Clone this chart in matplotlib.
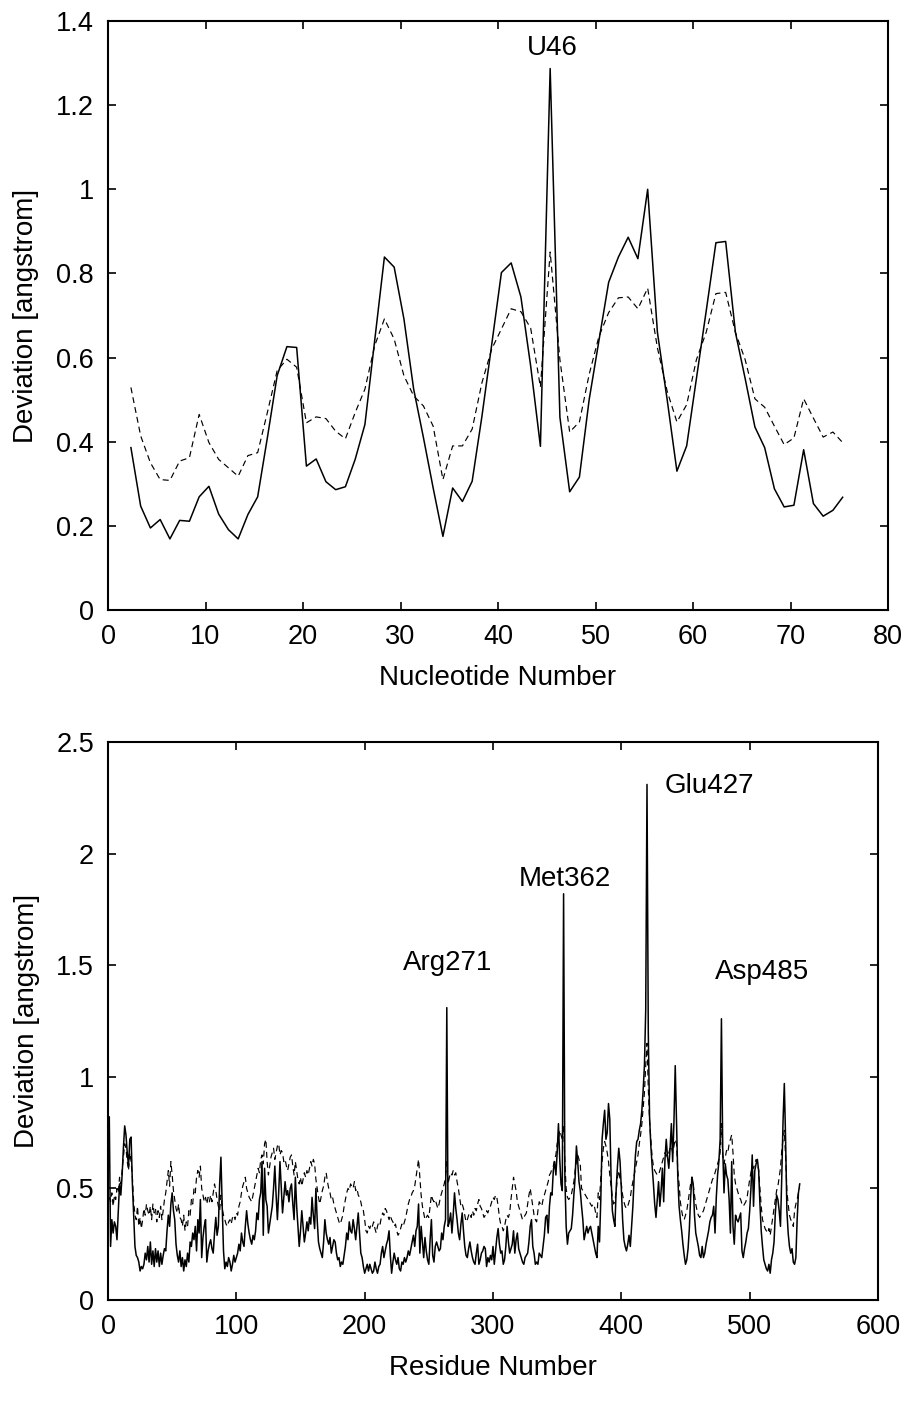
import numpy as np
import matplotlib
matplotlib.use("Agg")
import matplotlib.pyplot as plt

# ---------------- tRNA nucleotides ----------------
nucleotide_first, nucleotide_last = 2, 75
trna_solid = [
    0.386, 0.247, 0.195, 0.215, 0.169, 0.213, 0.211, 0.269, 0.294, 0.228,
    0.191, 0.169, 0.227, 0.269, 0.410, 0.557, 0.626, 0.624, 0.342, 0.359,
    0.305, 0.286, 0.293, 0.358, 0.441, 0.640, 0.839, 0.815, 0.692, 0.525,
    0.410, 0.290, 0.175, 0.290, 0.258, 0.306, 0.460, 0.630, 0.802, 0.825,
    0.744, 0.580, 0.389, 1.287, 0.458, 0.281, 0.316, 0.500, 0.640, 0.779,
    0.839, 0.886, 0.835, 1.000, 0.660, 0.500, 0.330, 0.390, 0.550, 0.710,
    0.873, 0.876, 0.660, 0.550, 0.435, 0.386, 0.288, 0.245, 0.249, 0.381,
    0.253, 0.223, 0.237, 0.268,
]
trna_dashed = [
    0.529, 0.414, 0.350, 0.310, 0.308, 0.354, 0.362, 0.465, 0.398, 0.358,
    0.338, 0.318, 0.367, 0.374, 0.470, 0.569, 0.596, 0.577, 0.445, 0.459,
    0.455, 0.425, 0.407, 0.469, 0.525, 0.628, 0.692, 0.644, 0.557, 0.509,
    0.485, 0.437, 0.310, 0.390, 0.390, 0.430, 0.540, 0.620, 0.668, 0.716,
    0.709, 0.670, 0.530, 0.851, 0.595, 0.423, 0.447, 0.560, 0.650, 0.707,
    0.742, 0.744, 0.716, 0.765, 0.623, 0.520, 0.447, 0.488, 0.595, 0.660,
    0.752, 0.755, 0.660, 0.595, 0.502, 0.482, 0.437, 0.393, 0.409, 0.502,
    0.456, 0.411, 0.423, 0.398,
]
trna_label = "U46"
trna_label_pos = (45.6, 1.335)

# ---------------- protein residues ----------------
residue_first, residue_last = 1, 539
protein_solid = [
    # 1-70
    0.82, 0.24, 0.36, 0.30, 0.35, 0.33, 0.27, 0.40, 0.52, 0.47,
    0.56, 0.68, 0.78, 0.74, 0.66, 0.60, 0.72, 0.73, 0.52, 0.38,
    0.24, 0.20, 0.19, 0.17, 0.13, 0.15, 0.14, 0.16, 0.21, 0.18,
    0.24, 0.17, 0.26, 0.16, 0.22, 0.15, 0.23, 0.17, 0.22, 0.15,
    0.21, 0.16, 0.20, 0.23, 0.22, 0.31, 0.38, 0.33, 0.43, 0.48,
    0.40, 0.36, 0.25, 0.20, 0.17, 0.22, 0.15, 0.19, 0.13, 0.18,
    0.15, 0.21, 0.17, 0.26, 0.24, 0.30, 0.27, 0.33, 0.22, 0.36,
    # 71-145
    0.30, 0.45, 0.19, 0.28, 0.33, 0.36, 0.17, 0.22, 0.25, 0.27,
    0.23, 0.21, 0.30, 0.37, 0.29, 0.33, 0.52, 0.64, 0.42, 0.22,
    0.14, 0.17, 0.15, 0.19, 0.17, 0.13, 0.16, 0.20, 0.17, 0.19,
    0.21, 0.25, 0.22, 0.30, 0.26, 0.24, 0.33, 0.40, 0.34, 0.30,
    0.27, 0.25, 0.29, 0.27, 0.31, 0.39, 0.36, 0.45, 0.48, 0.62,
    0.29, 0.59, 0.45, 0.42, 0.30, 0.34, 0.38, 0.42, 0.50, 0.60,
    0.47, 0.36, 0.48, 0.62, 0.50, 0.39, 0.46, 0.53, 0.47, 0.49,
    0.44, 0.50, 0.52, 0.43, 0.36,
    # 146-220
    0.55, 0.42, 0.33, 0.24, 0.31, 0.40, 0.33, 0.26, 0.30, 0.35,
    0.31, 0.37, 0.34, 0.46, 0.38, 0.32, 0.50, 0.36, 0.26, 0.23,
    0.21, 0.19, 0.26, 0.36, 0.30, 0.27, 0.25, 0.28, 0.21, 0.24,
    0.27, 0.26, 0.21, 0.18, 0.19, 0.15, 0.17, 0.16, 0.20, 0.24,
    0.30, 0.27, 0.35, 0.31, 0.30, 0.36, 0.32, 0.27, 0.33, 0.39,
    0.30, 0.21, 0.19, 0.15, 0.12, 0.14, 0.16, 0.13, 0.16, 0.14,
    0.12, 0.13, 0.17, 0.14, 0.12, 0.15, 0.16, 0.21, 0.24, 0.19,
    0.22, 0.25, 0.27, 0.31, 0.20,
    # 221-294
    0.12, 0.17, 0.21, 0.18, 0.16, 0.19, 0.14, 0.13, 0.17, 0.16,
    0.19, 0.17, 0.19, 0.22, 0.20, 0.23, 0.26, 0.29, 0.24, 0.31,
    0.33, 0.43, 0.21, 0.33, 0.26, 0.19, 0.28, 0.22, 0.18, 0.16,
    0.27, 0.36, 0.20, 0.17, 0.24, 0.26, 0.24, 0.22, 0.23, 0.30,
    0.27, 0.33, 0.36, 1.31, 0.33, 0.35, 0.39, 0.30, 0.38, 0.48,
    0.41, 0.36, 0.30, 0.27, 0.34, 0.39, 0.31, 0.24, 0.20, 0.19,
    0.23, 0.26, 0.22, 0.19, 0.17, 0.16, 0.21, 0.25, 0.16, 0.18,
    0.21, 0.22, 0.24, 0.23,
    # 295-368
    0.15, 0.19, 0.17, 0.20, 0.18, 0.24, 0.16, 0.22, 0.28, 0.32,
    0.25, 0.21, 0.22, 0.16, 0.18, 0.24, 0.33, 0.26, 0.21, 0.23,
    0.25, 0.31, 0.21, 0.27, 0.30, 0.23, 0.21, 0.19, 0.17, 0.16,
    0.19, 0.20, 0.21, 0.26, 0.33, 0.36, 0.24, 0.21, 0.16, 0.17,
    0.16, 0.21, 0.20, 0.19, 0.24, 0.29, 0.37, 0.38, 0.30, 0.42,
    0.48, 0.47, 0.58, 0.62, 0.56, 0.66, 0.79, 0.63, 0.52, 0.49,
    1.82, 0.55, 0.33, 0.25, 0.30, 0.31, 0.32, 0.38, 0.47, 0.55,
    0.69, 0.62, 0.53, 0.49,
    # 369-442
    0.42, 0.36, 0.27, 0.30, 0.33, 0.30, 0.32, 0.33, 0.30, 0.27,
    0.24, 0.21, 0.19, 0.33, 0.26, 0.45, 0.72, 0.79, 0.85, 0.72,
    0.75, 0.88, 0.81, 0.55, 0.40, 0.36, 0.33, 0.50, 0.60, 0.68,
    0.62, 0.50, 0.36, 0.27, 0.24, 0.22, 0.25, 0.29, 0.24, 0.33,
    0.42, 0.55, 0.65, 0.71, 0.72, 0.76, 0.79, 0.85, 0.94, 1.05,
    1.30, 2.31, 1.20, 0.82, 0.69, 0.60, 0.52, 0.43, 0.37, 0.45,
    0.53, 0.42, 0.49, 0.59, 0.44, 0.63, 0.72, 0.64, 0.59, 0.68,
    0.79, 0.62, 0.80, 1.05,
    # 443-516
    0.79, 0.55, 0.42, 0.36, 0.31, 0.25, 0.20, 0.16, 0.18, 0.23,
    0.32, 0.46, 0.55, 0.52, 0.38, 0.30, 0.27, 0.24, 0.20, 0.19,
    0.24, 0.19, 0.21, 0.25, 0.28, 0.31, 0.35, 0.37, 0.38, 0.42,
    0.30, 0.46, 0.56, 0.62, 0.72, 1.26, 0.68, 0.48, 0.61, 0.56,
    0.54, 0.45, 0.30, 0.62, 0.33, 0.25, 0.38, 0.36, 0.35, 0.37,
    0.39, 0.22, 0.19, 0.23, 0.26, 0.30, 0.32, 0.40, 0.50, 0.65,
    0.42, 0.58, 0.61, 0.63, 0.58, 0.43, 0.31, 0.24, 0.18, 0.16,
    0.14, 0.13, 0.16, 0.12,
    # 517-539
    0.18, 0.21, 0.26, 0.39, 0.47, 0.45, 0.40, 0.33, 0.55, 0.80,
    0.97, 0.72, 0.40, 0.30, 0.24, 0.21, 0.23, 0.17, 0.16, 0.19,
    0.36, 0.48, 0.52,
]
protein_dashed = [
    # 1-70
    0.46, 0.44, 0.48, 0.42, 0.47, 0.45, 0.50, 0.48, 0.55, 0.52,
    0.58, 0.64, 0.70, 0.68, 0.62, 0.58, 0.66, 0.62, 0.55, 0.44,
    0.38, 0.36, 0.42, 0.33, 0.37, 0.32, 0.36, 0.41, 0.38, 0.43,
    0.40, 0.38, 0.42, 0.36, 0.43, 0.39, 0.41, 0.35, 0.40, 0.37,
    0.42, 0.36, 0.40, 0.45, 0.48, 0.53, 0.58, 0.51, 0.62, 0.56,
    0.49, 0.45, 0.41, 0.39, 0.43, 0.37, 0.36, 0.33, 0.38, 0.31,
    0.35, 0.33, 0.40, 0.38, 0.45, 0.43, 0.50, 0.48, 0.55, 0.58,
    # 71-145
    0.55, 0.60, 0.50, 0.47, 0.44, 0.46, 0.43, 0.46, 0.44, 0.47,
    0.44, 0.48, 0.52, 0.49, 0.45, 0.42, 0.40, 0.47, 0.41, 0.38,
    0.36, 0.34, 0.33, 0.35, 0.36, 0.34, 0.37, 0.38, 0.36, 0.39,
    0.38, 0.42, 0.44, 0.48, 0.51, 0.53, 0.55, 0.50, 0.48, 0.46,
    0.45, 0.44, 0.47, 0.50, 0.53, 0.56, 0.59, 0.57, 0.63, 0.65,
    0.61, 0.70, 0.72, 0.62, 0.56, 0.60, 0.64, 0.66, 0.68, 0.63,
    0.66, 0.69, 0.70, 0.65, 0.67, 0.66, 0.62, 0.63, 0.60, 0.58,
    0.61, 0.64, 0.65, 0.60, 0.56,
    # 146-220
    0.62, 0.58, 0.54, 0.52, 0.55, 0.51, 0.54, 0.57, 0.55, 0.58,
    0.56, 0.59, 0.62, 0.60, 0.63, 0.61, 0.54, 0.50, 0.46, 0.43,
    0.46, 0.49, 0.51, 0.55, 0.57, 0.53, 0.50, 0.48, 0.45, 0.46,
    0.43, 0.41, 0.39, 0.37, 0.35, 0.34, 0.36, 0.38, 0.42, 0.45,
    0.48, 0.50, 0.49, 0.52, 0.51, 0.50, 0.53, 0.49, 0.50, 0.47,
    0.46, 0.44, 0.41, 0.40, 0.36, 0.31, 0.30, 0.33, 0.32, 0.34,
    0.33, 0.35, 0.32, 0.30, 0.33, 0.35, 0.34, 0.37, 0.39, 0.38,
    0.41, 0.40, 0.38, 0.36, 0.38,
    # 221-294
    0.36, 0.35, 0.33, 0.34, 0.31, 0.29, 0.30, 0.32, 0.34, 0.33,
    0.35, 0.37, 0.40, 0.43, 0.45, 0.46, 0.48, 0.49, 0.51, 0.55,
    0.59, 0.63, 0.55, 0.47, 0.42, 0.39, 0.36, 0.37, 0.38, 0.37,
    0.42, 0.47, 0.45, 0.44, 0.45, 0.43, 0.41, 0.43, 0.46, 0.48,
    0.50, 0.52, 0.55, 0.62, 0.52, 0.55, 0.57, 0.56, 0.58, 0.56,
    0.57, 0.53, 0.50, 0.46, 0.42, 0.43, 0.41, 0.38, 0.35, 0.36,
    0.38, 0.39, 0.37, 0.40, 0.38, 0.41, 0.40, 0.43, 0.45, 0.42,
    0.41, 0.39, 0.37, 0.38,
    # 295-368
    0.40, 0.39, 0.41, 0.42, 0.44, 0.46, 0.45, 0.47, 0.46, 0.42,
    0.37, 0.34, 0.33, 0.31, 0.33, 0.36, 0.38, 0.37, 0.39, 0.45,
    0.50, 0.55, 0.52, 0.49, 0.44, 0.42, 0.40, 0.38, 0.36, 0.37,
    0.38, 0.39, 0.43, 0.47, 0.50, 0.46, 0.42, 0.38, 0.36, 0.35,
    0.40, 0.44, 0.43, 0.42, 0.45, 0.47, 0.49, 0.51, 0.53, 0.56,
    0.57, 0.59, 0.60, 0.63, 0.65, 0.70, 0.72, 0.76, 0.74, 0.72,
    0.78, 0.62, 0.50, 0.46, 0.45, 0.46, 0.47, 0.50, 0.53, 0.58,
    0.62, 0.65, 0.63, 0.61,
    # 369-442
    0.50, 0.49, 0.48, 0.47, 0.46, 0.45, 0.44, 0.43, 0.42, 0.43,
    0.42, 0.39, 0.37, 0.48, 0.45, 0.55, 0.62, 0.68, 0.71, 0.69,
    0.66, 0.62, 0.56, 0.51, 0.46, 0.43, 0.44, 0.49, 0.55, 0.58,
    0.54, 0.52, 0.47, 0.44, 0.42, 0.41, 0.42, 0.44, 0.46, 0.50,
    0.53, 0.56, 0.59, 0.62, 0.65, 0.70, 0.74, 0.79, 0.86, 0.93,
    1.05, 1.15, 0.95, 0.80, 0.72, 0.64, 0.60, 0.58, 0.57, 0.56,
    0.56, 0.58, 0.60, 0.62, 0.64, 0.66, 0.65, 0.64, 0.66, 0.68,
    0.69, 0.66, 0.69, 0.72,
    # 443-516
    0.70, 0.58, 0.52, 0.44, 0.40, 0.37, 0.36, 0.38, 0.40, 0.44,
    0.48, 0.52, 0.55, 0.52, 0.47, 0.43, 0.40, 0.38, 0.37, 0.38,
    0.39, 0.40, 0.42, 0.44, 0.46, 0.48, 0.50, 0.52, 0.54, 0.55,
    0.57, 0.59, 0.61, 0.63, 0.66, 0.79, 0.65, 0.61, 0.64, 0.67,
    0.66, 0.70, 0.72, 0.74, 0.66, 0.56, 0.52, 0.50, 0.48, 0.46,
    0.45, 0.43, 0.42, 0.43, 0.44, 0.46, 0.50, 0.54, 0.57, 0.60,
    0.59, 0.61, 0.63, 0.62, 0.58, 0.50, 0.42, 0.36, 0.34, 0.32,
    0.31, 0.30, 0.32, 0.29,
    # 517-539
    0.33, 0.37, 0.41, 0.45, 0.49, 0.51, 0.55, 0.59, 0.67, 0.72,
    0.76, 0.64, 0.49, 0.43, 0.38, 0.36, 0.35, 0.33, 0.40, 0.43,
    0.45, 0.48, 0.50,
]
protein_labels = ["Arg271", "Met362", "Glu427", "Asp485"]
protein_label_pos = [(264.5, 1.51), (356.0, 1.885), (434.0, 2.305), (510.0, 1.47)]
protein_label_ha = ["center", "center", "left", "center"]

# ---------------- style ----------------
plt.rcParams["font.family"] = ["Liberation Sans", "DejaVu Sans"]
plt.rcParams["lines.scale_dashes"] = False
FS = 20
TICK_FS = 19.5

W, H = 914, 1405
fig = plt.figure(figsize=(W / 100, H / 100), dpi=100)
fig.patch.set_facecolor("white")


def px_axes(left, top, right, bottom):
    return fig.add_axes([left / W, 1 - bottom / H, (right - left) / W, (bottom - top) / H])


def style(ax):
    for s in ax.spines.values():
        s.set_linewidth(1.5)
    ax.tick_params(direction="in", length=6, width=1.2, top=True, right=True,
                   labelsize=TICK_FS, pad=10)


# tRNA panel
ax1 = px_axes(108, 21, 888, 610)
x1 = np.arange(nucleotide_first, nucleotide_last + 1) + 0.35
ax1.plot(x1, trna_solid, color="black", lw=1.1)
ax1.plot(x1, trna_dashed, color="black", lw=0.85, dashes=(4.3, 2.9))
ax1.set_xlim(0, 80)
ax1.set_ylim(0, 1.4)
ax1.set_xticks(np.arange(0, 81, 10))
ax1.set_yticks(np.arange(0, 1.41, 0.2))
ax1.set_yticklabels(["0", "0.2", "0.4", "0.6", "0.8", "1", "1.2", "1.4"])
ax1.set_xlabel("Nucleotide Number", fontsize=FS, labelpad=11)
ax1.set_ylabel("Deviation [angstrom]", fontsize=FS, labelpad=12)
ax1.text(*trna_label_pos, trna_label, fontsize=FS, ha="center", va="center")
style(ax1)

# protein panel
ax2 = px_axes(108, 742, 878, 1300)
x2 = np.arange(residue_first, residue_last + 1)
ax2.plot(x2, protein_solid, color="black", lw=1.1)
ax2.plot(x2, protein_dashed, color="black", lw=0.85, dashes=(4.3, 2.9))
ax2.set_xlim(0, 600)
ax2.set_ylim(0, 2.5)
ax2.set_xticks(np.arange(0, 601, 100))
ax2.set_yticks(np.arange(0, 2.51, 0.5))
ax2.set_yticklabels(["0", "0.5", "1", "1.5", "2", "2.5"])
ax2.set_xlabel("Residue Number", fontsize=FS, labelpad=11)
ax2.set_ylabel("Deviation [angstrom]", fontsize=FS, labelpad=12)
for lab, pos, ha in zip(protein_labels, protein_label_pos, protein_label_ha):
    ax2.text(*pos, lab, fontsize=FS, ha=ha, va="center")
style(ax2)

fig.savefig("out.png", dpi=100)
